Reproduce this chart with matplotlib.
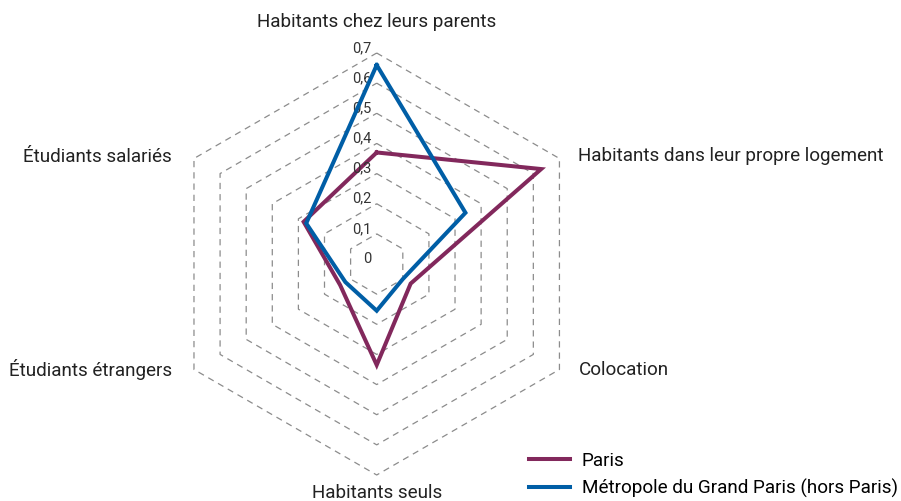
import numpy as np
import matplotlib
matplotlib.use("Agg")
from matplotlib import pyplot as plt

plt.rcParams['font.family'] = ['Roboto', 'DejaVu Sans']

categories = ['Habitants chez leurs parents', 'Habitants dans leur propre logement',
              'Colocation', 'Habitants seuls', 'Étudiants étrangers', 'Étudiants salariés']
paris = [0.37, 0.63, 0.13, 0.335, 0.14, 0.28]
metropole = [0.66, 0.34, 0.10, 0.155, 0.12, 0.27]
series_names = ['Paris', 'Métropole du Grand Paris (hors Paris)']
rings = [0.1, 0.2, 0.3, 0.4, 0.5, 0.6, 0.7]
tick_labels = ['0', '0,1', '0,2', '0,3', '0,4', '0,5', '0,6', '0,7']

red = '#82285c'
blue = '#005ea6'

fig = plt.figure(figsize=(9.01, 5.01), dpi=100)
ax = fig.add_axes([0.1839, 0.0519, 0.4684, 0.8423], projection='polar')
ax.set_theta_zero_location('N')
ax.set_theta_direction(-1)
ax.set_ylim(0, 0.7)
ax.grid(False)
ax.spines['polar'].set_visible(False)
ax.set_xticks([])
ax.set_yticks([])
ax.patch.set_alpha(0)

theta = np.linspace(0, 2 * np.pi, len(categories), endpoint=False)
theta_c = np.append(theta, theta[0])

for r in rings:
    ax.plot(theta_c, [r] * len(theta_c), color='#8c8c8c', lw=0.9,
            ls=(0, (5, 4)), zorder=1, clip_on=False)

l1, = ax.plot(theta_c, paris + paris[:1], color=red, lw=2.9, zorder=3,
              solid_joinstyle='miter', clip_on=False)
l2, = ax.plot(theta_c, metropole + metropole[:1], color=blue, lw=2.9, zorder=4,
              solid_joinstyle='miter', clip_on=False)

# ring labels on the top axis
for i, lab in enumerate(tick_labels):
    ax.annotate(lab, xy=(0, i * 0.1), xytext=(-5, 5), textcoords='offset pixels',
                ha='right', va='center', fontsize=10.5, color='#333333')

# category labels
offsets = [(0, 31, 'center'), (19, 3, 'left'), (19, 0, 'left'),
           (0, -18, 'center'), (-22, 0, 'right'), (-22, 2, 'right')]
for t, lab, (dx, dy, ha) in zip(theta, categories, offsets):
    ax.annotate(lab, xy=(t, 0.7), xytext=(dx, dy), textcoords='offset pixels',
                ha=ha, va='center', fontsize=13.6, color='#222222')

fig.legend([l1, l2], series_names, loc='upper left', bbox_to_anchor=(0.587, 0.098),
           frameon=False, fontsize=13.6, handlelength=2.2, handletextpad=0.6,
           labelspacing=0.45, borderaxespad=0, borderpad=0)

plt.savefig('out.png', dpi=100)
